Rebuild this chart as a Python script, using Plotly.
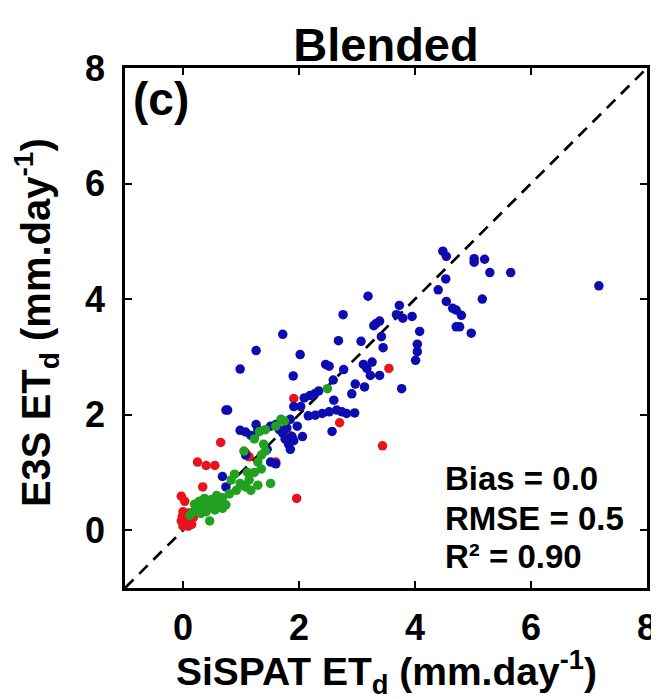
import plotly.graph_objects as go

# SiSPAT ET_d (x) vs E3S ET_d (y), mm/day
blue_x = [4.48, 4.54, 5.02, 5.20, 5.02, 5.29, 5.65, 7.17, 4.53, 4.40, 5.16, 4.54, 4.65, 4.71, 4.80,
          4.71, 4.77, 4.97, 3.19, 3.73, 3.68, 3.79, 3.95, 2.76, 3.33, 3.29, 3.39, 3.42, 3.07, 2.68,
          3.45, 4.08, 4.04, 4.04, 4.01, 1.72, 1.26, 0.985, 2.02, 2.46, 2.52, 3.11, 3.26, 3.17, 1.90,
          2.77, 2.59, 3.23, 3.39, 2.97, 3.13, 3.77, 2.91, 2.34, 2.27, 2.19, 2.09, 2.60, 1.91, 2.03,
          0.74, 0.77, 2.16, 2.28, 2.40, 2.52, 2.65, 2.74, 2.82, 2.96, 1.85, 1.97, 2.57, 2.06, 0.985,
          1.08, 1.26, 1.29, 1.51, 1.60, 1.66, 1.72, 1.79, 1.88, 1.82, 1.91, 1.76, 1.85, 1.45, 1.51,
          1.60, 1.17, 1.23, 0.68, 1.08, 0.74]
blue_y = [4.83, 4.74, 4.70, 4.69, 4.64, 4.46, 4.46, 4.23, 4.35, 4.16, 4.00, 3.96, 3.84, 3.81, 3.72,
          3.52, 3.52, 3.41, 4.05, 3.89, 3.73, 3.67, 3.70, 3.73, 3.58, 3.54, 3.62, 3.35, 3.27, 3.28,
          3.16, 3.44, 3.22, 3.09, 2.94, 3.39, 3.11, 2.79, 3.04, 2.87, 2.84, 2.87, 2.91, 2.80, 2.67,
          2.78, 2.60, 2.68, 2.68, 2.53, 2.48, 2.45, 2.36, 2.41, 2.36, 2.33, 2.29, 2.25, 2.14, 2.14,
          2.08, 2.08, 1.98, 1.99, 2.02, 2.05, 2.08, 2.05, 2.02, 2.03, 1.92, 1.80, 1.71, 1.62, 1.73,
          1.70, 1.83, 1.74, 1.80, 1.83, 1.74, 1.68, 1.77, 1.62, 1.49, 1.55, 1.58, 1.40, 1.40, 1.18,
          1.15, 1.64, 1.61, 0.93, 1.30, 0.75]

red_x = [3.55, 1.91, 2.70, 3.44, 0.65, 0.25, 0.40, 0.55, 1.08, 1.14, 1.60, 0.34, 1.96, -0.03,
         0.03, 0.00, 0.06, -0.03, 0.03, 0.12, 0.09, 0.15, 0.18, 0.00, 1.84, 0.05, 0.10, -0.01]
red_y = [2.80, 2.28, 1.86, 1.46, 1.52, 1.18, 1.12, 1.12, 1.34, 1.27, 1.18, 0.75, 0.55, 0.59,
         0.50, 0.32, 0.26, 0.16, 0.13, 0.16, 0.07, 0.10, 0.22, 0.07, 1.64, 0.20, 0.30, 0.24]

green_x = [2.49, 1.69, 1.75, 1.60, 1.42, 1.32, 1.23, 1.39, 1.42, 1.35, 1.05, 1.29, 1.35, 1.23,
           0.83, 0.89, 0.985, 1.08, 1.14, 1.17, 1.51, 1.29, 0.92, 0.80, 0.68, 0.55, 0.43, 0.34,
           0.25, 0.18, 0.12, 0.49, 0.62, 0.55, 0.40, 0.31, 0.46, 0.68, 0.74, 1.02, 1.11, 0.20,
           0.28, 0.37, 0.58, 0.50]
green_y = [2.45, 1.92, 1.89, 1.80, 1.74, 1.71, 1.58, 1.49, 1.37, 1.30, 1.37, 1.18, 1.06, 1.00,
           0.87, 0.97, 0.81, 0.75, 0.87, 0.69, 0.81, 0.78, 0.69, 0.63, 0.56, 0.50, 0.44, 0.41,
           0.38, 0.32, 0.26, 0.53, 0.47, 0.35, 0.32, 0.29, 0.16, 0.38, 0.44, 0.78, 1.00, 0.45,
           0.50, 0.55, 0.60, 0.45]

one_to_one = [-1, 8]
tick_vals = [0, 2, 4, 6, 8]
stats_lines = ["Bias = 0.0", "RMSE = 0.5", "R² = 0.90"]
x_title = "SiSPAT ET<sub>d</sub> (mm.day<sup>-1</sup>)"
y_title = "E3S ET<sub>d</sub> (mm.day<sup>-1</sup>)"

FONT = "Liberation Sans"

fig = go.Figure()
fig.add_trace(go.Scatter(x=one_to_one, y=one_to_one, mode="lines",
                         line=dict(color="black", width=2.7, dash="12px,8px"),
                         showlegend=False, hoverinfo="skip"))
fig.add_trace(go.Scatter(x=red_x, y=red_y, mode="markers",
                         marker=dict(color="#e8141c", size=9.5), showlegend=False))
fig.add_trace(go.Scatter(x=blue_x, y=blue_y, mode="markers",
                         marker=dict(color="#0c0cb0", size=9.5), showlegend=False))
fig.add_trace(go.Scatter(x=green_x, y=green_y, mode="markers",
                         marker=dict(color="#22a022", size=9.5), showlegend=False))

axis_common = dict(
    range=[-1, 8], tickvals=tick_vals, ticks="inside", ticklen=7, tickwidth=2,
    tickcolor="black", showline=True, linecolor="black", linewidth=2.5, mirror="ticks",
    showgrid=False, zeroline=False, automargin=False, ticklabeloverflow="allow",
    tickfont=dict(family=FONT, size=36, color="black", weight="bold"),
)

fig.update_layout(
    width=659, height=699,
    margin=dict(l=117, r=20, t=60, b=119),
    paper_bgcolor="white", plot_bgcolor="white",
    font=dict(family=FONT, color="black"),
    xaxis=dict(**axis_common, ticklabelstandoff=6),
    yaxis=dict(**axis_common, ticklabelstandoff=10),
    title=dict(text="<b>Blended</b>", xref="paper", x=0.5, xanchor="center",
               yref="container", y=0.947, yanchor="middle",
               font=dict(family=FONT, size=47)),
)

# axis titles
fig.add_annotation(x=0.5, y=-0.161, xref="paper", yref="paper", xanchor="center",
                   yanchor="middle", text="<b>" + x_title + "</b>", showarrow=False,
                   font=dict(family=FONT, size=39, color="black"))
fig.add_annotation(x=-0.170, y=0.51, xref="paper", yref="paper", xanchor="center",
                   yanchor="middle", textangle=-90, text="<b>" + y_title + "</b>",
                   showarrow=False, font=dict(family=FONT, size=40, color="black"))

fig.add_annotation(x=0, y=1, xref="paper", yref="paper", xanchor="left", yanchor="top",
                   xshift=6, yshift=-3, text="<b>(c)</b>", showarrow=False,
                   font=dict(family=FONT, size=46, color="black"))

stats_y = [0.2115, 0.1327, 0.0615]
for line, yy in zip(stats_lines, stats_y):
    fig.add_annotation(x=0.610, y=yy, xref="paper", yref="paper", xanchor="left",
                       yanchor="middle", text="<b>" + line + "</b>", align="left",
                       showarrow=False, font=dict(family=FONT, size=33, color="black"))

fig.write_html("out.html")
